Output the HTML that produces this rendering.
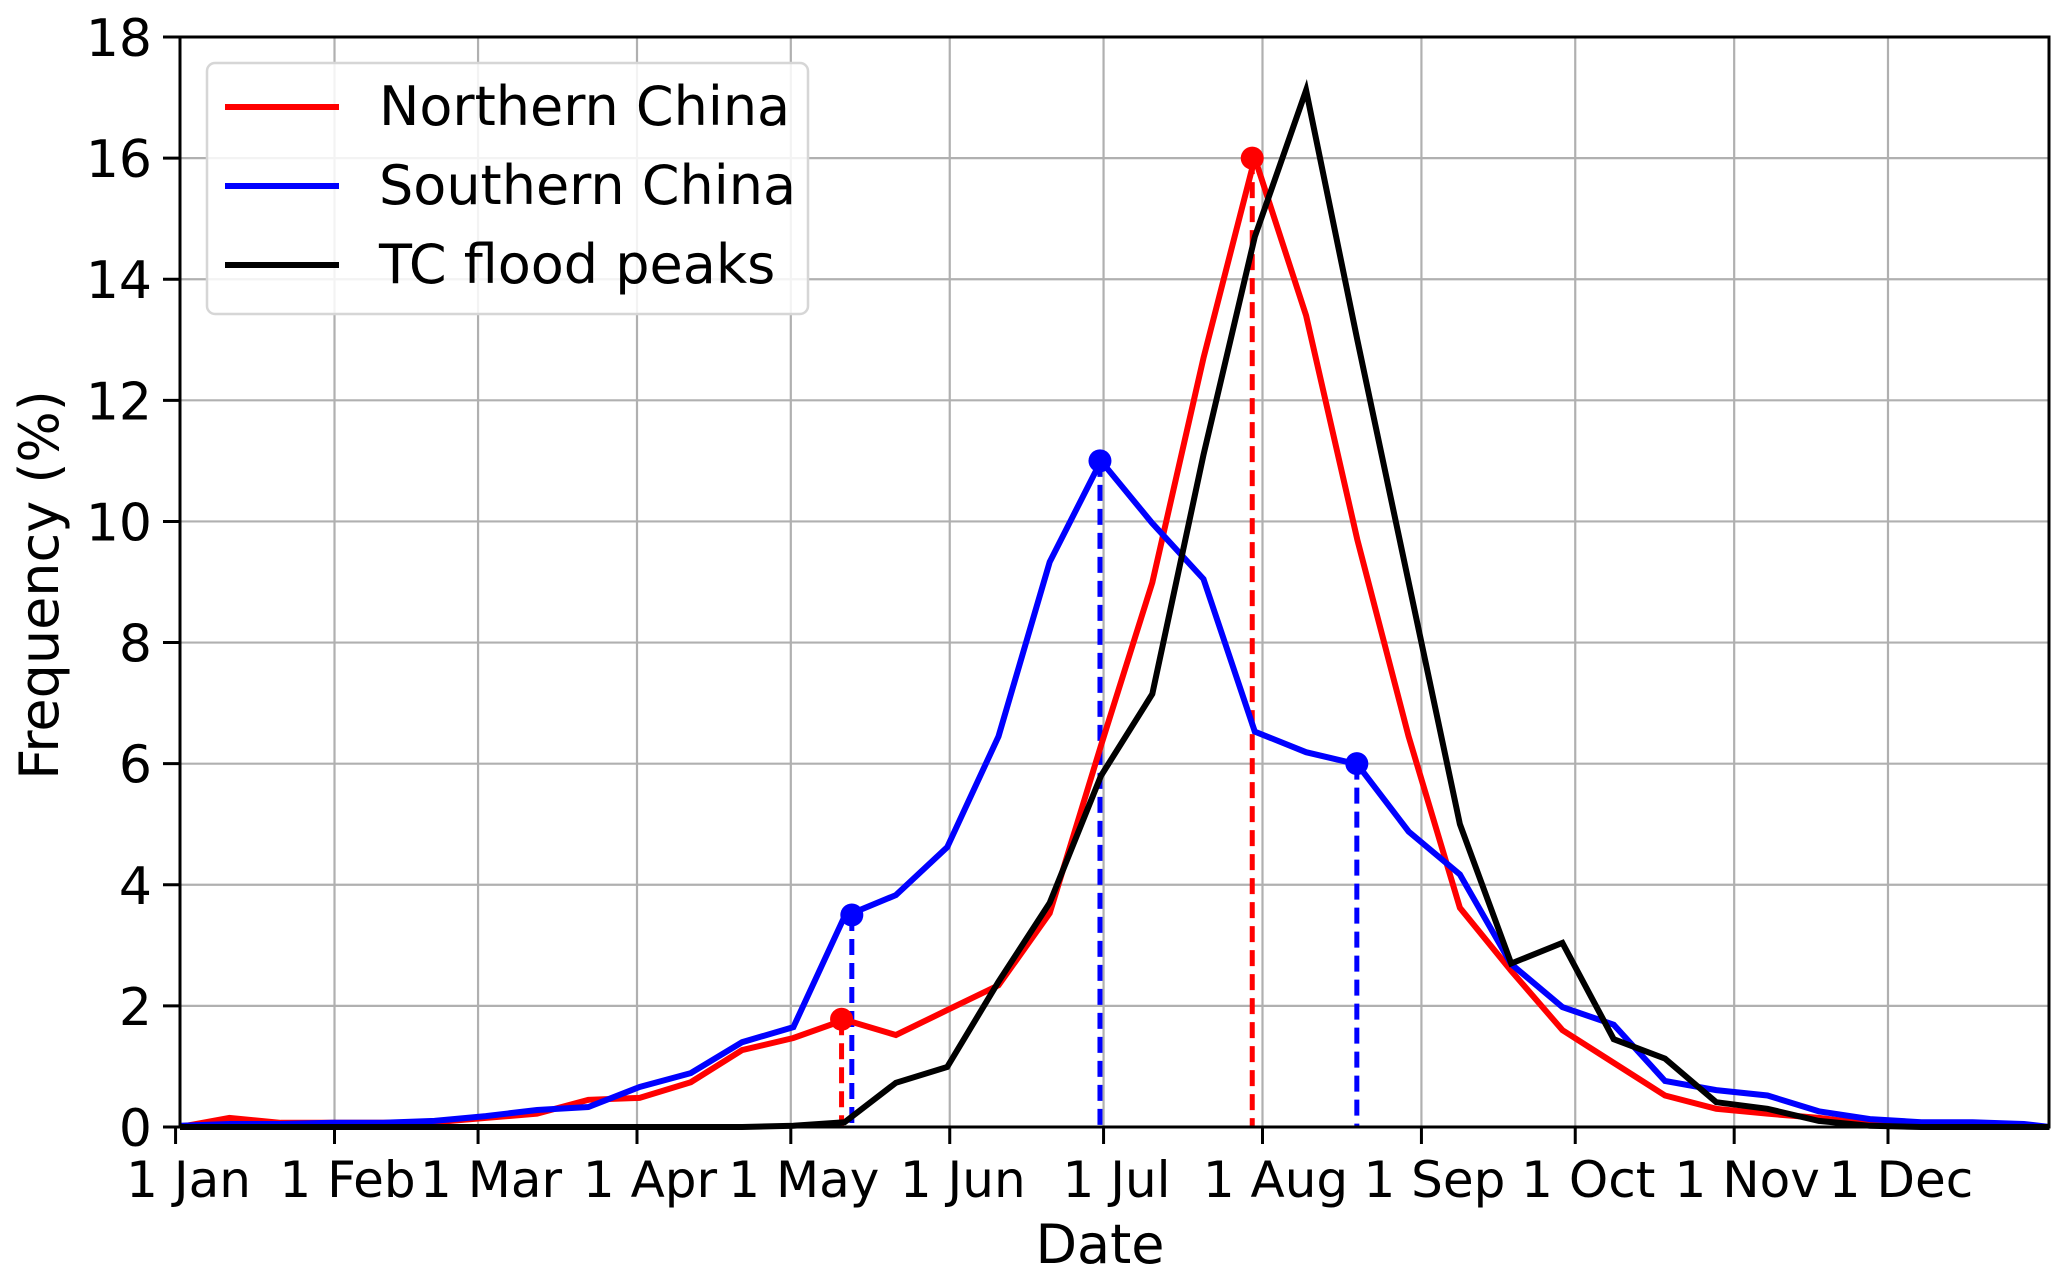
<!DOCTYPE html>
<html><head><meta charset="utf-8"><style>
html,body{margin:0;padding:0;background:#fff;}
svg{display:block;}
text{font-family:"DejaVu Sans","Liberation Sans",sans-serif;fill:#000;}
</style></head><body>
<svg id="chart" width="2067" height="1282" viewBox="0 0 2067 1282" xmlns="http://www.w3.org/2000/svg">
<g id="grid"></g>
<g id="series"></g>
<g id="axes"></g>
<text x="1100" y="1263" font-size="54" text-anchor="middle">Date</text>
<text transform="translate(58,585) rotate(-90)" font-size="54" text-anchor="middle">Frequency (%)</text>
<g>
<rect x="207" y="63" width="601" height="251" rx="8" fill="#fff" fill-opacity="0.85" stroke="#d6d6d6" stroke-width="2.5"/>
<line x1="225" y1="107" x2="339" y2="107" stroke="#ff0000" stroke-width="6"/>
<text x="379" y="125" font-size="54">Northern China</text>
<line x1="225" y1="186" x2="339" y2="186" stroke="#0000ff" stroke-width="6"/>
<text x="379" y="204" font-size="54">Southern China</text>
<line x1="225" y1="265" x2="339" y2="265" stroke="#000" stroke-width="6"/>
<text x="379" y="283" font-size="54">TC flood peaks</text>
</g>
</svg>
<script>
const days = [0.86,10.5,20.5,30.5,40.5,50.5,60.5,70.5,80.5,90.5,100.5,110.5,120.5,130.5,140.5,150.5,160.5,170.5,180.5,190.5,200.5,210.5,220.5,230.5,240.5,250.5,260.5,270.5,280.5,290.5,300.5,310.5,320.5,330.5,340.5,350.5,360.5,365.5];
const northern = [0,0.15,0.07,0.07,0.07,0.08,0.15,0.22,0.45,0.48,0.74,1.27,1.47,1.77,1.52,1.93,2.34,3.53,6.3,8.99,12.7,16.0,13.4,9.7,6.45,3.62,2.58,1.6,1.06,0.52,0.3,0.22,0.15,0.05,0.05,0.03,0.02,0];
const southern = [0.02,0.05,0.05,0.07,0.07,0.1,0.18,0.28,0.33,0.66,0.89,1.4,1.65,3.48,3.83,4.62,6.45,9.33,11.0,9.97,9.05,6.53,6.19,5.99,4.88,4.17,2.69,1.98,1.69,0.76,0.61,0.52,0.26,0.13,0.08,0.08,0.05,0];
const tcPeaks = [0,0,0,0,0,0,0,0,0,0,0,0,0.02,0.08,0.73,0.99,2.4,3.7,5.8,7.15,11.1,14.7,17.12,13.0,9.0,5.0,2.7,3.04,1.45,1.13,0.41,0.3,0.1,0.02,0,0,0,0];
const northMarkerDays = [129.9,210];
const northMarkerVals = [1.78,16.0];
const southMarkerDays = [131.9,180.3,230.4];
const southMarkerVals = [3.5,11.0,6.0];
const monthTickDays = [0,31,59,90,120,151,181,212,243,273,304,334];
const monthTickLabels = ["1 Jan","1 Feb","1 Mar","1 Apr","1 May","1 Jun","1 Jul","1 Aug","1 Sep","1 Oct","1 Nov","1 Dec"];
const yTickVals = [0,2,4,6,8,10,12,14,16,18];

const NS='http://www.w3.org/2000/svg';
const L=180,R=2049,T=37,B=1127;
function xs(d){return 637+(d-90)*5.127;}
function ys(v){return B-(v/18)*(B-T);}
function mk(tag,attrs,parent){const e=document.createElementNS(NS,tag);for(const k in attrs)e.setAttribute(k,attrs[k]);parent.appendChild(e);return e;}
const grid=document.getElementById('grid'),axes=document.getElementById('axes'),ser=document.getElementById('series');

monthTickDays.forEach((d,i)=>{
  const x=xs(d);
  if(x>L+2){const g=mk('line',{x1:x,y1:T,x2:x,y2:B,stroke:'#b0b0b0','stroke-width':2.2},grid);
  
  }
  const t=mk('line',{x1:x,y1:B,x2:x,y2:B+17,stroke:'#000','stroke-width':3},axes);
  
  
  const lb=mk('text',{x:x+13,y:B+70,'font-size':50,'text-anchor':'middle'},axes);
  lb.textContent=monthTickLabels[i];
  
  
});
yTickVals.forEach(v=>{
  const y=ys(v);
  if(v>0&&v<18){const g=mk('line',{x1:L,y1:y,x2:R,y2:y,stroke:'#b0b0b0','stroke-width':2.2},grid);
  
  }
  const t=mk('line',{x1:L-17,y1:y,x2:L,y2:y,stroke:'#000','stroke-width':3},axes);
  
  
  const lb=mk('text',{x:L-28,y:y+19,'font-size':52,'text-anchor':'end'},axes);
  lb.textContent=String(v);
  
  
});
const frame=mk('rect',{x:L,y:T,width:R-L,height:B-T,fill:'none',stroke:'#000','stroke-width':3},axes);



function drawDrops(ds,vs,color,name){
  ds.forEach((d,i)=>{
    const ln=mk('line',{x1:xs(d),y1:ys(vs[i]),x2:xs(d),y2:B,stroke:color,'stroke-width':5,'stroke-dasharray':'16 8'},ser);
    
    
  });
}
function drawLine(vals,color,name){
  const pts=vals.map((v,i)=>xs(days[i]).toFixed(1)+','+ys(v).toFixed(1)).join(' ');
  const p=mk('polyline',{points:pts,fill:'none',stroke:color,'stroke-width':6,'stroke-linejoin':'miter'},ser);
  
  
}
function drawDots(ds,vs,color,name){
  ds.forEach((d,i)=>{
    const c=mk('circle',{cx:xs(d),cy:ys(vs[i]),r:11.5,fill:color},ser);
    
    
  });
}
drawDrops(northMarkerDays,northMarkerVals,'#ff0000','northern');
drawDrops(southMarkerDays,southMarkerVals,'#0000ff','southern');
drawLine(northern,'#ff0000','northern-china-line');
drawLine(southern,'#0000ff','southern-china-line');
drawLine(tcPeaks,'#000000','tc-flood-peaks-line');
drawDots(northMarkerDays,northMarkerVals,'#ff0000','northern');
drawDots(southMarkerDays,southMarkerVals,'#0000ff','southern');
</script>
</body></html>
